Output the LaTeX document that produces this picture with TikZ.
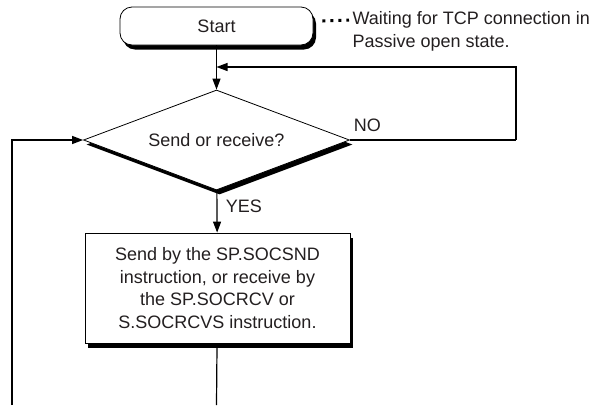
\documentclass[tikz,border=0pt]{standalone}
\usepackage{fontspec}
\setmainfont{Liberation Sans}
\usetikzlibrary{positioning,arrows.meta,shapes.geometric,shadows}
\definecolor{inkgray}{HTML}{231F20}

\begin{document}
\begin{tikzpicture}[
			x=1pt, y=-1pt,
			font=\fontsize{18}{22.7}\selectfont,
			text=inkgray,
			line width=1.2pt,
			shadowed/.style={
					drop shadow={shadow xshift=3pt,shadow yshift=-4.5pt,
							fill=black,opacity=1}
				},
			startbox/.style={
					draw, fill=white, line width=0.8pt,
					rounded corners=12pt,
					minimum width=193pt, minimum height=38pt,
					shadowed
				},
			decision/.style={
					draw, diamond, fill=white, line width=0.8pt,
					shape aspect=2.66,
					minimum width=266pt, minimum height=100pt,
					inner sep=0pt, shadowed
				},
			process/.style={
					draw, fill=white, line width=0.8pt,
					minimum width=265pt, minimum height=110pt,
					align=center, shadowed
				},
			leader/.style={line width=3pt, dash pattern=on 3pt off 5pt},
			>={Triangle[length=11pt,width=8pt]}
		]
		\useasboundingbox (0,0) rectangle (598,405);

		\node[startbox] (start) at (216.5,26) {Start};

		\node[decision] (ask) at (216.5,140) {Send or receive?};

		\node[process] (send) at (217.5,288)
		{Send by the SP.SOCSND\\instruction, or receive by\\the SP.SOCRCV or\\S.SOCRCVS instruction.};

		\node (note) [align=left, anchor=west, inner sep=0pt] at (352,31)
		{Waiting for TCP connection in\\Passive open state.};

		\coordinate (noturn) at (516,140);
		\coordinate (merge) at (216.5,67);
		\coordinate (outend) at (216.5,405);
		\coordinate (loopin) at (12,405);

		\draw[leader] ([shift={(9,-5)}]start.east) -- ([shift={(-3,-11)}]note.west);
		\draw[->] (start) -- (ask);
		\draw (ask.east) -- node[above right, pos=0, yshift=4pt] {NO} (noturn);
		\draw[->] (noturn) |- (merge);
		\draw[->] (ask) -- node[right, xshift=5pt, yshift=5pt] {YES} (send);
		\draw (send) -- (outend);
		\draw[->] (loopin) |- (ask.west);

	\end{tikzpicture}
\end{document}
